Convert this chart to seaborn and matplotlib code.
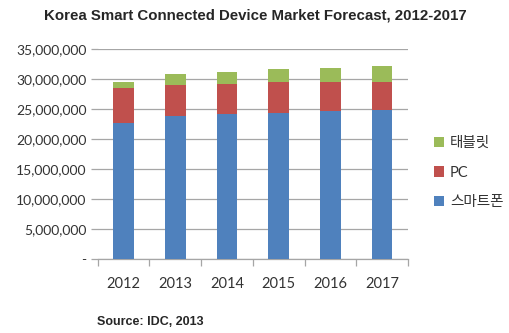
import matplotlib
matplotlib.use("Agg")
import matplotlib.pyplot as plt
import seaborn as sns
import numpy as np
import pandas as pd
from matplotlib.ticker import FuncFormatter, MultipleLocator
from matplotlib.patches import Patch

years = ["2012", "2013", "2014", "2015", "2016", "2017"]
smartphone = [22700000, 23900000, 24200000, 24400000, 24700000, 24800000]
pc = [5900000, 5100000, 5000000, 5100000, 4900000, 4800000]
tablet = [1000000, 1800000, 2000000, 2200000, 2300000, 2600000]
series_names = ["스마트폰", "PC", "태블릿"]
colors = ["#4F81BD", "#C0504D", "#9BBB59"]

sns.set_style("white")
plt.rcParams["font.family"] = ["Lato", "Noto Sans CJK KR", "DejaVu Sans"]

fig = plt.figure(figsize=(5.10, 3.33), dpi=100)
ax = fig.add_axes([0.1916, 0.2213, 0.6084, 0.6307])

df = pd.DataFrame({"year": years, "smart": smartphone, "pc": pc, "tablet": tablet})
df["lvl1"] = df["smart"]
df["lvl2"] = df["smart"] + df["pc"]
df["lvl3"] = df["lvl2"] + df["tablet"]

for col, c in zip(["lvl3", "lvl2", "lvl1"], colors[::-1]):
    sns.barplot(data=df, x="year", y=col, color=c, width=0.4, ax=ax,
                saturation=1, edgecolor="none", linewidth=0, zorder=3)

ax.set_ylim(0, 35000000)
ax.set_xlim(-0.5, 5.5)
ax.yaxis.set_major_locator(MultipleLocator(5000000))
ax.yaxis.set_major_formatter(FuncFormatter(lambda v, p: "-" if v == 0 else f"{int(v):,}"))
ax.grid(axis="y", color="#a6a6a6", linewidth=0.9, zorder=0)
ax.set_axisbelow(True)
for s in ["top", "right", "left"]:
    ax.spines[s].set_visible(False)
ax.spines["bottom"].set_color("#a6a6a6")
ax.spines["bottom"].set_linewidth(0.9)
ax.set_xlabel("")
ax.set_ylabel("")

ax.tick_params(axis="y", length=5, color="#a6a6a6", width=0.9, labelsize=10,
               labelcolor="#333333", left=True, pad=3)
ax.tick_params(axis="x", length=0, labelsize=10.5, labelcolor="#333333", pad=13)
# category boundary ticks
ax.set_xticks(np.arange(-0.5, 6.0, 1.0), minor=True)
ax.tick_params(axis="x", which="minor", length=5, color="#a6a6a6", width=0.9, bottom=True)

handles = [Patch(facecolor=colors[i], edgecolor="none") for i in [2, 1, 0]]
labels = [series_names[i] for i in [2, 1, 0]]
leg = fig.legend(handles, labels, loc="upper left", bbox_to_anchor=(0.825, 0.63),
                 frameon=False, fontsize=10.5, handlelength=0.7, handleheight=0.7,
                 handletextpad=0.4, labelspacing=1.05, labelcolor="#333333")

fig.text(0.5, 0.953, "Korea Smart Connected Device Market Forecast, 2012-2017",
         ha="center", va="center", fontsize=10.8, fontweight="bold",
         family=["Liberation Sans", "DejaVu Sans"])
fig.text(0.19, 0.033, "Source: IDC, 2013", ha="left", va="center", fontsize=9,
         fontweight="bold", family=["Liberation Sans", "DejaVu Sans"])

fig.savefig("out.png", dpi=100)
